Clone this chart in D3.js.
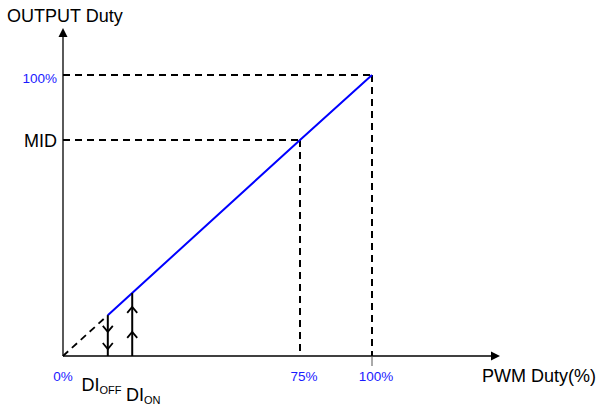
<!DOCTYPE html>
<html>
<head>
<meta charset="utf-8">
<script src="https://cdn.jsdelivr.net/npm/d3@7"></script>
<style>
  body { margin: 0; background: #fff; }
  text { font-family: "Liberation Sans", Arial, sans-serif; }
</style>
</head>
<body>
<svg id="chart" width="598" height="410"></svg>
<script>
// duty values (% PWM in, % output)
var xTickValues = [0, 76.7, 100];
var xTickLabels = ["0%", "75%", "100%"];
var yTickValues = [100, 76.9];
var yTickLabels = ["100%", "MID"];
var diOff = 14.5;
var diOn = 22.4;
var curvePwm = [14.5, 76.7, 100];
var curveOut = [14.5, 76.9, 100];
var offArrows = [8.6, 2.5];   // down chevrons on DI_OFF
var onArrows = [17.5, 8.6];   // up chevrons on DI_ON

var svg = d3.select("svg#chart");
var x = d3.scaleLinear().domain([0, 100]).range([63, 372]);
var y = d3.scaleLinear().domain([0, 100]).range([356, 75]);

var x0 = x(0), y0 = y(0);

// dashed guide lines
var guides = [
    { px: x(100), py: y(100) },
    { px: x(curvePwm[1]), py: y(curveOut[1]) }
];
guides.forEach(function(g) {
    svg.append("line")
        .attr("x1", x0).attr("y1", g.py).attr("x2", g.px).attr("y2", g.py)
        .attr("stroke", "#000").attr("stroke-width", 2).attr("stroke-dasharray", "7,5");
    svg.append("line")
        .attr("x1", g.px).attr("y1", g.py).attr("x2", g.px).attr("y2", y0)
        .attr("stroke", "#000").attr("stroke-width", 2).attr("stroke-dasharray", "7,5");
});

// dashed segment below DI_OFF
svg.append("line")
    .attr("x1", x0).attr("y1", y0).attr("x2", x(diOff)).attr("y2", y(diOff))
    .attr("stroke", "#000").attr("stroke-width", 1.8).attr("stroke-dasharray", "7,5");

// Blue output line
var line = d3.line()
    .x(function(d, i) { return x(curvePwm[i]); })
    .y(function(d, i) { return y(curveOut[i]); });
svg.append("path")
    .datum(curvePwm)
    .attr("d", line)
    .attr("fill", "none")
    .attr("stroke", "#0000ff")
    .attr("stroke-width", 2);

// DI vertical lines with chevrons
function diLine(v, arrows, dir) {
    var xx = x(v);
    svg.append("line")
        .attr("x1", xx).attr("y1", y(v)).attr("x2", xx).attr("y2", y0)
        .attr("stroke", "#000").attr("stroke-width", 2);
    arrows.forEach(function(a) {
        var ty = y(a);
        svg.append("path")
            .attr("d", "M" + (xx - 5) + "," + (ty - 6 * dir) + "L" + xx + "," + ty + "L" + (xx + 5) + "," + (ty - 6 * dir))
            .attr("fill", "none").attr("stroke", "#000").attr("stroke-width", 1.8);
    });
}
diLine(diOff, offArrows, 1);
diLine(diOn, onArrows, -1);

// Axes
svg.append("line")
    .attr("x1", x0).attr("y1", y0).attr("x2", 494).attr("y2", y0)
    .attr("stroke", "#000").attr("stroke-width", 1.3);
svg.append("path").attr("d", "M500," + y0 + "L491," + (y0 - 4.5) + "L491," + (y0 + 4.5) + "Z");
svg.append("line")
    .attr("x1", x0).attr("y1", y0).attr("x2", x0).attr("y2", 34)
    .attr("stroke", "#000").attr("stroke-width", 1.3);
svg.append("path").attr("d", "M" + x0 + ",28L" + (x0 - 4.5) + ",37L" + (x0 + 4.5) + ",37Z");

// small tick under 100%
svg.append("line")
    .attr("x1", x(100)).attr("y1", y0).attr("x2", x(100)).attr("y2", y0 + 10)
    .attr("stroke", "#555").attr("stroke-width", 1);

// tick labels
svg.selectAll(".xlab").data(xTickValues).enter().append("text")
    .attr("x", function(d) { return x(d) + (d === 0 ? 0 : 4); })
    .attr("y", 381)
    .attr("text-anchor", "middle")
    .attr("font-size", 13.5)
    .attr("fill", "#1a1aff")
    .text(function(d, i) { return xTickLabels[i]; });

svg.selectAll(".ylab").data(yTickValues).enter().append("text")
    .attr("x", 57)
    .attr("y", function(d) { return y(d) + (d === 100 ? 8 : 7); })
    .attr("text-anchor", "end")
    .attr("font-size", function(d) { return d === 100 ? 13.5 : 18; })
    .attr("fill", function(d) { return d === 100 ? "#1a1aff" : "#000"; })
    .text(function(d, i) { return yTickLabels[i]; });

// DI labels with subscripts
function diLabel(lx, ly, sub) {
    var t = svg.append("text").attr("x", lx).attr("y", ly).attr("font-size", 18).attr("fill", "#000");
    t.append("tspan").text("DI");
    t.append("tspan").attr("font-size", 11).attr("dy", 3).text(sub);
}
diLabel(81.5, 391, "OFF");
diLabel(126, 400.5, "ON");

// axis titles
svg.append("text").attr("x", 7).attr("y", 21.5).attr("font-size", 18).text("OUTPUT Duty");
svg.append("text").attr("x", 482).attr("y", 382).attr("font-size", 18).text("PWM Duty(%)");
</script>
</body>
</html>
